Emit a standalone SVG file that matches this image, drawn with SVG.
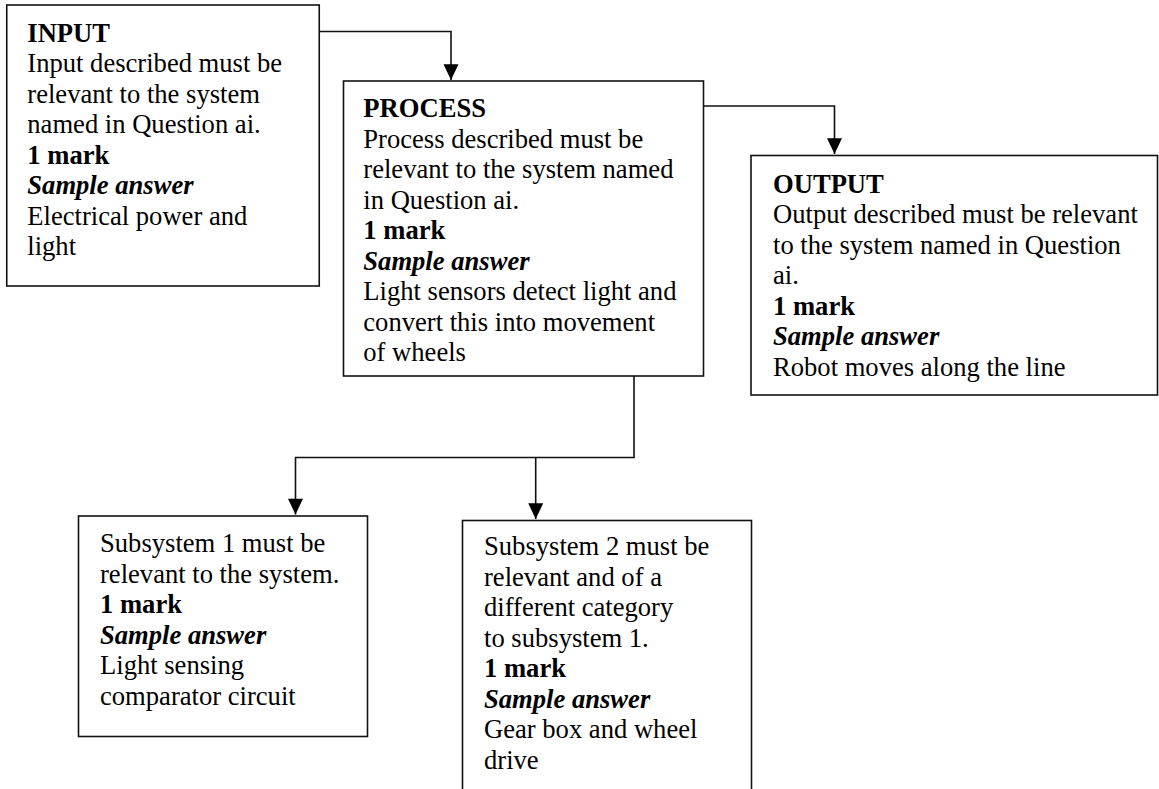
<svg xmlns="http://www.w3.org/2000/svg" width="1159" height="789" viewBox="0 0 1159 789">
<style>
.box{fill:#fff;stroke:#111;stroke-width:1.6}
.t{font-family:"Liberation Serif","Times New Roman",serif;font-size:26.6px;fill:#000}
.b{font-weight:bold}
.i{font-weight:bold;font-style:italic}
.con{fill:none;stroke:#111;stroke-width:1.6}
</style>
<defs>
<marker id="ah" markerUnits="userSpaceOnUse" markerWidth="16" markerHeight="16" refX="15.7" refY="7.5" orient="auto" overflow="visible">
<path d="M0,0 L15.7,7.5 L0,15 z" fill="#000"/>
</marker>
</defs>
<rect width="1159" height="789" fill="#fff"/>
<g id="connectors">
<path class="con" d="M319.5,31.5 H451 V80" marker-end="url(#ah)"/>
<path class="con" d="M703.5,106 H834.5 V154" marker-end="url(#ah)"/>
<path class="con" d="M634,376 V457.5 H295.5 V514.5" marker-end="url(#ah)"/>
<path class="con" d="M535.7,457.5 V519" marker-end="url(#ah)"/>
</g>
<g id="input">
<rect class="box" x="6.75" y="5" width="312.5" height="281"/>
<text class="t" x="27.3" y="41.7"><tspan class="b">INPUT</tspan><tspan x="27.3" dy="30.5">Input described must be</tspan><tspan x="27.3" dy="30.5">relevant to the system</tspan><tspan x="27.3" dy="30.5">named in Question ai.</tspan><tspan x="27.3" dy="30.5" class="b">1 mark</tspan><tspan x="27.3" dy="30.5" class="i">Sample answer</tspan><tspan x="27.3" dy="30.5">Electrical power and</tspan><tspan x="27.3" dy="30.5">light</tspan></text>
</g>
<g id="process">
<rect class="box" x="343.5" y="81" width="360" height="295"/>
<text class="t" x="363.3" y="117"><tspan class="b">PROCESS</tspan><tspan x="363.3" dy="30.5">Process described must be</tspan><tspan x="363.3" dy="30.5">relevant to the system named</tspan><tspan x="363.3" dy="30.5">in Question ai.</tspan><tspan x="363.3" dy="30.5" class="b">1 mark</tspan><tspan x="363.3" dy="30.5" class="i">Sample answer</tspan><tspan x="363.3" dy="30.5">Light sensors detect light and</tspan><tspan x="363.3" dy="30.5">convert this into movement</tspan><tspan x="363.3" dy="30.5">of wheels</tspan></text>
</g>
<g id="output">
<rect class="box" x="751" y="155.5" width="406.5" height="239.5"/>
<text class="t" x="773" y="192.5"><tspan class="b">OUTPUT</tspan><tspan x="773" dy="30.5">Output described must be relevant</tspan><tspan x="773" dy="30.5">to the system named in Question</tspan><tspan x="773" dy="30.5">ai.</tspan><tspan x="773" dy="30.5" class="b">1 mark</tspan><tspan x="773" dy="30.5" class="i">Sample answer</tspan><tspan x="773" dy="30.5">Robot moves along the line</tspan></text>
</g>
<g id="subsystem1">
<rect class="box" x="78.5" y="516" width="289" height="220.5"/>
<text class="t" x="100" y="552"><tspan>Subsystem 1 must be</tspan><tspan x="100" dy="30.5">relevant to the system.</tspan><tspan x="100" dy="30.5" class="b">1 mark</tspan><tspan x="100" dy="30.5" class="i">Sample answer</tspan><tspan x="100" dy="30.5">Light sensing</tspan><tspan x="100" dy="30.5">comparator circuit</tspan></text>
</g>
<g id="subsystem2">
<rect class="box" x="462.5" y="520.5" width="289" height="300"/>
<text class="t" x="484" y="555"><tspan>Subsystem 2 must be</tspan><tspan x="484" dy="30.5">relevant and of a</tspan><tspan x="484" dy="30.5">different category</tspan><tspan x="484" dy="30.5">to subsystem 1.</tspan><tspan x="484" dy="30.5" class="b">1 mark</tspan><tspan x="484" dy="30.5" class="i">Sample answer</tspan><tspan x="484" dy="30.5">Gear box and wheel</tspan><tspan x="484" dy="30.5">drive</tspan></text>
</g>
</svg>
